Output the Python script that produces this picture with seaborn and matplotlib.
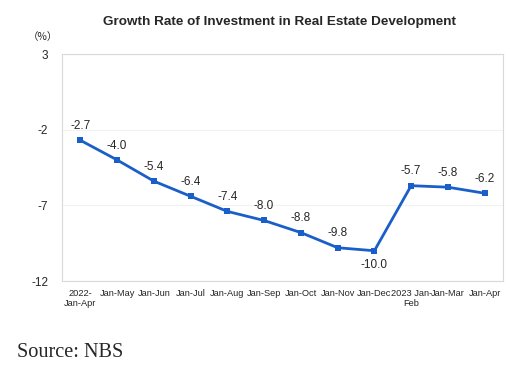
import pandas as pd
import matplotlib
matplotlib.use('Agg')
import matplotlib.pyplot as plt
import seaborn as sns

PERIODS = ['2022-\nJan-Apr', 'Jan-May', 'Jan-Jun', 'Jan-Jul', 'Jan-Aug', 'Jan-Sep', 'Jan-Oct',
           'Jan-Nov', 'Jan-Dec', '2023 Jan-\nFeb', 'Jan-Mar', 'Jan-Apr']
GROWTH = [-2.7, -4.0, -5.4, -6.4, -7.4, -8.0, -8.8, -9.8, -10.0, -5.7, -5.8, -6.2]
Y_TICKS = [3, -2, -7, -12]

df = pd.DataFrame({'pos': range(len(PERIODS)), 'growth': GROWTH})

sns.set_theme(style = "white")
plt.rcParams['font.family'] = ['Arial', 'Liberation Sans', 'DejaVu Sans']

fig = plt.figure(figsize = (5.27, 3.70), dpi = 100)
ax = fig.add_axes([0.1176, 0.2405, 0.8369, 0.6135])

sns.lineplot(data = df, x = 'pos', y = 'growth', ax = ax, color = '#1a5fc9', linewidth = 2,
             marker = 's', markersize = 4, markeredgewidth = 0)

# подписи значений: у -10.0 подпись снизу
for i, v in enumerate(GROWTH):
    if i == 8:
        ax.text(i, v - 0.55, f'{v:.1f}', ha = 'center', va = 'top', fontsize = 8.5)
    else:
        ax.text(i, v + 0.55, f'{v:.1f}', ha = 'center', va = 'bottom', fontsize = 8.5)

ax.set_xlim(-0.5, len(PERIODS) - 0.5)
ax.set_ylim(-12, 3)
ax.set_yticks(Y_TICKS)
ax.set_yticklabels([str(t) for t in Y_TICKS], fontsize = 8.5)
ax.set_xticks(range(len(PERIODS)))
ax.set_xticklabels(PERIODS, fontsize = 6.7, linespacing = 1.15)
ax.tick_params(axis = 'y', length = 0, pad = 10)
ax.tick_params(axis = 'x', length = 0, pad = 6)
ax.set_xlabel('')
ax.set_ylabel('')
ax.grid(axis = 'y', color = '#f2f2f2', linewidth = 0.8)
for s in ax.spines.values():
    s.set_color('#d9d9d9')
    s.set_linewidth(0.8)

fig.text(0.53, 0.94, 'Growth Rate of Investment in Real Estate Development',
         ha = 'center', va = 'center', fontsize = 9.7, fontweight = 'bold')
fig.text(0.082, 0.90, '（%）', ha = 'center', va = 'center', fontsize = 7.5,
         family = ['Noto Sans CJK SC', 'DejaVu Sans'])
fig.text(0.032, 0.048, 'Source: NBS', ha = 'left', va = 'center', fontsize = 14.6,
         family = ['Liberation Serif', 'DejaVu Serif'])

fig.savefig('out.png', dpi = 100)
